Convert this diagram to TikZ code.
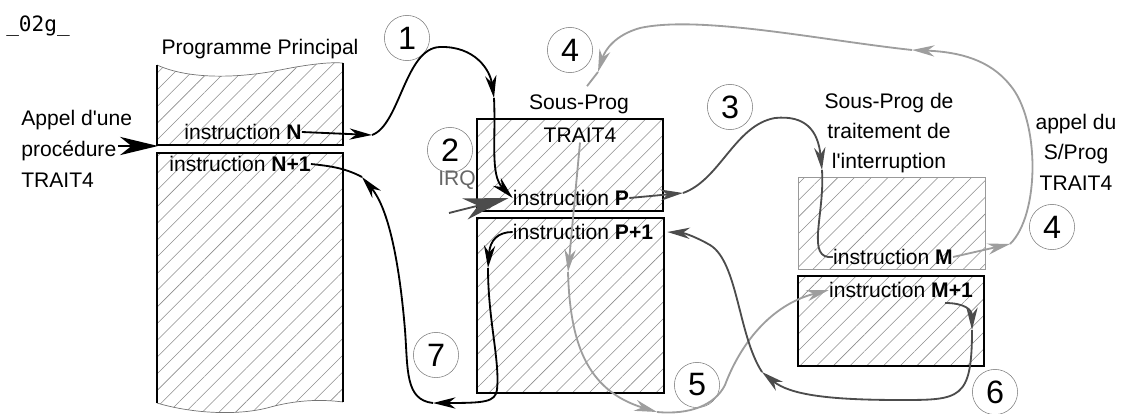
\documentclass[tikz,border=0pt]{standalone}
\usepackage{fontspec}
\setmainfont{Liberation Sans}[Ligatures=TeXOff]
\setmonofont{DejaVu Sans Mono}
\usetikzlibrary{arrows.meta,patterns.meta}

\colorlet{fonce}{black!70}
\colorlet{clair}{black!38}

\tikzset{
  hachure/.style={pattern={Lines[angle=45,distance=8.4pt,line width=0.4pt]}, pattern color=black!45},
  cadre/.style={draw, line width=1.3pt},
  txt/.style={inner sep=0pt, font=\fontsize{15}{18}\selectfont},
  num/.style={draw=black!50, line width=0.4pt, circle, minimum size=1.13cm, inner sep=0pt, font=\fontsize{23}{23}\selectfont},
  trait/.style={line width=1.3pt},
  fl/.style={trait, -{Stealth[length=16pt,width=8pt,inset=5pt]}},
  gfl/.style={trait, -{Stealth[length=#1,width=0.48*#1,inset=0.3*#1]}},
}

\begin{document}
\begin{tikzpicture}[x=0.025cm, y=-0.025cm]
\useasboundingbox (0,0) rectangle (1127,414);

% programme principal
\fill[hachure] (157,65) .. controls (190,80) and (240,78) .. (280,70) .. controls (310,64) and (330,62) .. (343,63) -- (343,145) -- (157,145) -- cycle;
\draw[black!55, line width=0.5pt] (157,65) .. controls (190,80) and (240,78) .. (280,70) .. controls (310,64) and (330,62) .. (343,63);
\draw[cadre] (157,65) -- (157,145) -- (343,145) -- (343,63);
\fill[hachure] (157,153) -- (343,153) -- (343,402) .. controls (320,399) and (295,400) .. (267,408) .. controls (235,416) and (190,413) .. (157,403) -- cycle;
\draw[black!55, line width=0.5pt] (343,402) .. controls (320,399) and (295,400) .. (267,408) .. controls (235,416) and (190,413) .. (157,403);
\draw[cadre] (157,403) -- (157,153) -- (343,153) -- (343,402);

% sous-programmes
\draw[cadre, hachure] (477,119) rectangle (663,211);
\draw[cadre, hachure] (477,218) rectangle (664,393);
\draw[black!40, line width=0.6pt, hachure] (798,177) rectangle (985,269);
\draw[cadre, hachure] (798,276) rectangle (984,366);

% textes
\node[txt, font=\ttfamily\fontsize{15}{18}\selectfont] (code) at (38,26) {\_02g\_};
\node[txt] (pp) at (260,49) {Programme Principal};
\node[txt, align=left, anchor=west, font=\fontsize{15}{22}\selectfont] (appel) at (21,149) {Appel d'une\\procédure\\TRAIT4};
\node[txt] (iN) at (243,132) {instruction \textbf{N}};
\node[txt] (iN1) at (240,164) {instruction \textbf{N+1}};
\node[txt] (sp) at (579,104) {Sous-Prog};
\node[txt] (t4) at (580,135) {TRAIT4};
\node[txt] (iP) at (571,198) {instruction \textbf{P}};
\node[txt] (iP1) at (583,232) {instruction \textbf{P+1}};
\node[txt, text=black!60] (irq) at (457,180) {IRQ};
\node[txt, align=center, font=\fontsize{15}{21.6}\selectfont] (si) at (889,133) {Sous-Prog de\\traitement de\\l'interruption};
\node[txt] (iM) at (893,257) {instruction \textbf{M}};
\node[txt] (iM1) at (901,290) {instruction \textbf{M+1}};
\node[txt, align=center, font=\fontsize{15}{21.6}\selectfont] (ap) at (1076,152) {appel du\\S/Prog\\TRAIT4};

% numeros
\node[num] (c1) at (407,38) {1};
\node[num] (c2) at (450,150) {2};
\node[num] (c3) at (730,107) {3};
\node[num] (c4) at (570,50) {4};
\node[num] (c4b) at (1052,227) {4};
\node[num] (c5) at (697,385) {5};
\node[num] (c6) at (995,392) {6};
\node[num] (c7) at (436,355) {7};

\coordinate (ap0) at (118,146);
\coordinate (irq0) at (449,213);
\coordinate (m6) at (945,303);

% appel et IRQ
\draw[gfl=27pt] (ap0) -- (158,146);
\draw[gfl=32pt, fonce] (irq0) -- ([xshift=-0.1cm]iP.west);

% 1
\draw[fl] (iN.east) -- (372,135);
\draw[fl] (372,135) .. controls (400,125) and (405,48) .. (440,47) .. controls (475,46) and (490,70) .. (494,98);
\draw[fl] (494,98) .. controls (496,140) and (490,175) .. (iP.west);
% 3
\draw[fl, fonce] (iP.east) -- (683,193);
\draw[fl, fonce] (683,193) .. controls (720,180) and (735,125) .. (775,118) .. controls (805,115) and (818,130) .. (822,170);
\draw[trait, fonce] (822,170) .. controls (825,215) and (805,260) .. (iM.west);
% 4
\draw[fl, clair] (iM.east) -- (1010,244);
\draw[fl, clair] (1010,244) .. controls (1040,215) and (1040,120) .. (1010,85) .. controls (990,60) and (960,52) .. (912,50);
\draw[fl, clair] (912,50) .. controls (820,40) and (700,15) .. (640,28) .. controls (615,35) and (605,50) .. (598,72);
\draw[trait, clair] (598,72) -- ([xshift=0.2cm,yshift=0.2cm]sp.north);
% 5
\draw[fl, clair] (t4.south) -- (568,272);
\draw[fl, clair] (568,272) .. controls (570,340) and (585,390) .. (657,412);
\draw[fl, clair] (657,412) .. controls (690,415) and (715,405) .. (725,385) .. controls (740,345) and (770,305) .. (iM1.west);
% 6
\draw[fl, fonce] (m6) .. controls (965,303) and (972,310) .. (972,330);
\draw[fl, fonce] (972,330) .. controls (972,400) and (960,400) .. (900,400) .. controls (830,400) and (790,395) .. (762,372);
\draw[fl, fonce] (762,372) .. controls (738,335) and (738,262) .. (710,245) .. controls (698,238) and (685,233) .. ([xshift=0.35cm]iP1.east);
% 7
\draw[fl] (iP1.west) .. controls (498,232) and (490,240) .. (488,268);
\draw[fl] (488,268) .. controls (488,320) and (500,360) .. (497,390) .. controls (495,402) and (485,403) .. (433,403);
\draw[fl] (433,403) .. controls (405,400) and (408,370) .. (405,330) .. controls (400,270) and (390,210) .. (362,177);
\draw[trait] (362,177) .. controls (345,168) and (330,166) .. (iN1.east);
\end{tikzpicture}
\end{document}
